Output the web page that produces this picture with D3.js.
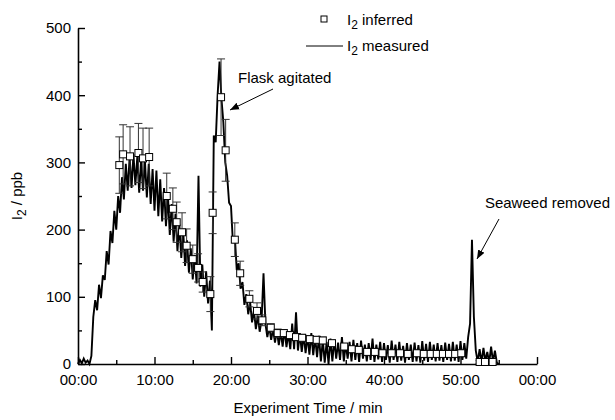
<!DOCTYPE html>
<html>
<head>
<meta charset="utf-8">
<script src="https://cdn.jsdelivr.net/npm/d3@7"></script>
<style>
  body { margin: 0; background: #fff; }
  svg { font-family: "Liberation Sans", Arial, Helvetica, sans-serif; }
</style>
</head>
<body>
<div id="chart"></div>
<script>
// measured I2 (ppb), one sample every 15 s starting at 00:00
const sampleStep = 0.25;
const measured = [
  0, 6, 1, 8, 2, 5, 0, 12,
  70, 95, 80, 118, 98, 132, 125, 168,
  148, 198, 180, 228, 200, 250, 225, 278,
  245, 298, 258, 308, 262, 312, 266, 308,
  255, 304, 258, 302, 248, 298, 238, 290,
  228, 288, 220, 275, 212, 262, 205, 252,
  192, 238, 182, 224, 168, 208, 158, 198,
  146, 184, 136, 172, 126, 162, 120, 280,
  115, 148, 100, 138, 90, 124, 50, 340,
  330, 400, 450, 395, 360, 300, 280, 240,
  235, 180, 190, 140, 150, 112, 122, 88,
  104, 74, 92, 62, 80, 52, 72, 48,
  66, 135, 60, 40, 56, 36, 52, 32,
  50, 28, 48, 26, 52, 25, 46, 22,
  60, 22, 77, 20, 46, 18, 44, 16,
  42, 14, 46, 13, 40, 10, 42, 4,
  36, 2, 33, 0, 38, 4, 36, 8,
  32, 6, 40, 4, 30, 8, 33, 4,
  36, 6, 31, 3, 35, 8, 29, 4,
  31, 6, 38, 3, 29, 7, 33, 3,
  31, 6, 28, 2, 35, 6, 29, 3,
  33, 5, 27, 2, 31, 6, 29, 3,
  32, 4, 28, 2, 34, 5, 30, 3,
  33, 6, 29, 4, 31, 5, 28, 3,
  32, 6, 30, 4, 33, 5, 29, 3,
  34, 6, 31, 8, 40, 60, 185, 70,
  20, 3, 22, 2, 24, 4, 18, 2,
  26, 3, 20, 2, 0
];

// inferred I2 (min, ppb, error)
const inferredTime = [5.4, 5.9, 6.8, 7.9, 8.5, 9.3, 11.6, 12.4, 12.9, 13.6, 14.2, 15.0, 15.7, 16.3, 17.3, 17.6,
  18.7, 19.3, 20.5, 21.2, 22.4, 23.4, 24.1, 25.2, 26.1, 26.9, 27.7, 28.5, 29.3, 30.3, 31.2, 32.0,
  33.2, 34.8, 35.8, 36.7, 37.8, 38.8, 39.8, 41.0, 42.1, 43.1, 44.3, 45.2, 46.1, 46.9, 47.7, 48.5,
  49.3, 50.1, 52.5, 53.2, 54.2];
const inferredValue = [296, 312, 309, 314, 306, 308, 250, 231, 211, 196, 176, 156, 143, 122, 104, 225,
  397, 318, 185, 135, 97, 79, 65, 54, 46, 46, 43, 40, 39, 37, 36, 35,
  31, 26, 22, 21, 18, 18, 16, 16, 16, 15, 16, 15, 15, 15, 15, 15,
  15, 16, 3, 3, 3];
const inferredError = [42, 44, 44, 44, 45, 43, 34, 31, 30, 29, 25, 21, 21, 15, 26, 31,
  57, 46, 25, 18, 12, 12, 8, 6, 6, 5, 5, 5, 5, 5, 5, 5,
  4, 4, 4, 4, 3, 3, 3, 3, 3, 3, 3, 3, 3, 3, 3, 3,
  3, 3, 2, 2, 2];

const xMajor = [0, 10, 20, 30, 40, 50, 60];
const xMinor = [5, 15, 25, 35, 45, 55];
const yMajor = [0, 100, 200, 300, 400, 500];
const yMinor = [50, 150, 250, 350, 450];

const width = 615, height = 420;
const svg = d3.select('#chart').append('svg')
  .attr('width', width).attr('height', height);

const x = d3.scaleLinear().domain([0, 60]).range([78, 537]);
const y = d3.scaleLinear().domain([0, 500]).range([364, 28]);

// time labels wrap at the hour, so 60 min reads 00:00
const fmt = d => String(d % 60).padStart(2, '0') + ':00';

// axes, ticks pointing inward
svg.append('g').attr('transform', `translate(0,${y(0)})`)
  .call(d3.axisBottom(x).tickValues(xMajor).tickFormat(fmt).tickSizeInner(-7).tickSizeOuter(0).tickPadding(10));
svg.append('g').attr('transform', `translate(0,${y(0)})`)
  .call(d3.axisBottom(x).tickValues(xMinor).tickFormat('').tickSizeInner(-4).tickSizeOuter(0))
  .select('.domain').remove();
svg.append('g').attr('transform', `translate(${x(0)},0)`)
  .call(d3.axisLeft(y).tickValues(yMajor).tickSizeInner(-7).tickSizeOuter(0).tickPadding(7));
svg.append('g').attr('transform', `translate(${x(0)},0)`)
  .call(d3.axisLeft(y).tickValues(yMinor).tickFormat('').tickSizeInner(-4).tickSizeOuter(0))
  .select('.domain').remove();

svg.selectAll('.domain').attr('stroke', '#000').attr('stroke-width', 1.6);
svg.selectAll('.tick line').attr('stroke', '#000').attr('stroke-width', 1.4);
svg.selectAll('.tick text').attr('font-size', 15).attr('fill', '#000')
  .attr('font-family', '"Liberation Sans", Arial, sans-serif');

// measured trace
const line = d3.line()
  .x((d, i) => x(i * sampleStep))
  .y(d => y(d));
svg.append('path')
  .datum(measured)
  .attr('d', line)
  .attr('fill', 'none')
  .attr('stroke', '#000')
  .attr('stroke-width', 1.9)
  .attr('stroke-linejoin', 'miter');

// inferred with error bars
const inferred = inferredTime.map((t, i) => ({ t, v: inferredValue[i], e: inferredError[i] }));
const eb = svg.append('g').attr('stroke', '#333').attr('stroke-width', 1);
eb.selectAll('line.bar').data(inferred).enter().append('line')
  .attr('x1', d => x(d.t)).attr('x2', d => x(d.t))
  .attr('y1', d => y(d.v - d.e)).attr('y2', d => y(d.v + d.e));
eb.selectAll('line.top').data(inferred).enter().append('line')
  .attr('x1', d => x(d.t) - 4).attr('x2', d => x(d.t) + 4)
  .attr('y1', d => y(d.v + d.e)).attr('y2', d => y(d.v + d.e));
eb.selectAll('line.bot').data(inferred).enter().append('line')
  .attr('x1', d => x(d.t) - 4).attr('x2', d => x(d.t) + 4)
  .attr('y1', d => y(d.v - d.e)).attr('y2', d => y(d.v - d.e));

svg.append('g').selectAll('rect').data(inferred).enter().append('rect')
  .attr('x', d => x(d.t) - 3.5).attr('y', d => y(d.v) - 3.5)
  .attr('width', 7).attr('height', 7)
  .attr('fill', '#fff').attr('stroke', '#000').attr('stroke-width', 1);

// legend
svg.append('rect').attr('x', 321).attr('y', 16).attr('width', 6).attr('height', 6)
  .attr('fill', '#fff').attr('stroke', '#000').attr('stroke-width', 1);
svg.append('line').attr('x1', 306).attr('x2', 343).attr('y1', 46).attr('y2', 46)
  .attr('stroke', '#000').attr('stroke-width', 1);

function subLabel(xp, yp, rest) {
  const t = svg.append('text').attr('x', xp).attr('y', yp).attr('font-size', 15);
  t.append('tspan').text('I');
  t.append('tspan').attr('dy', 4).attr('font-size', 12).text('2');
  t.append('tspan').attr('dy', -4).text(rest);
  return t;
}
subLabel(347, 25, ' inferred');
subLabel(347, 51, ' measured');

// annotations
const defs = svg.append('defs');
defs.append('marker').attr('id', 'arr').attr('viewBox', '0 0 10 10')
  .attr('refX', 10).attr('refY', 5).attr('markerWidth', 9).attr('markerHeight', 9)
  .attr('markerUnits', 'userSpaceOnUse').attr('orient', 'auto')
  .append('path').attr('d', 'M0,1 L10,5 L0,9 Z').attr('fill', '#000');

svg.append('text').attr('x', 238).attr('y', 83).attr('font-size', 15).text('Flask agitated');
svg.append('line').attr('x1', 273).attr('y1', 89).attr('x2', 230).attr('y2', 110)
  .attr('stroke', '#000').attr('stroke-width', 1).attr('marker-end', 'url(#arr)');

svg.append('text').attr('x', 610).attr('y', 208).attr('text-anchor', 'end').attr('font-size', 15).text('Seaweed removed');
svg.append('line').attr('x1', 499).attr('y1', 219).attr('x2', 477).attr('y2', 259)
  .attr('stroke', '#000').attr('stroke-width', 1).attr('marker-end', 'url(#arr)');

// axis titles
svg.append('text').attr('x', 308).attr('y', 413).attr('text-anchor', 'middle')
  .attr('font-size', 15).text('Experiment Time / min');

const yt = svg.append('text').attr('transform', 'translate(22,196) rotate(-90)')
  .attr('text-anchor', 'middle').attr('font-size', 15);
yt.append('tspan').text('I');
yt.append('tspan').attr('dy', 4).attr('font-size', 12).text('2');
yt.append('tspan').attr('dy', -4).text(' / ppb');
</script>
</body>
</html>
